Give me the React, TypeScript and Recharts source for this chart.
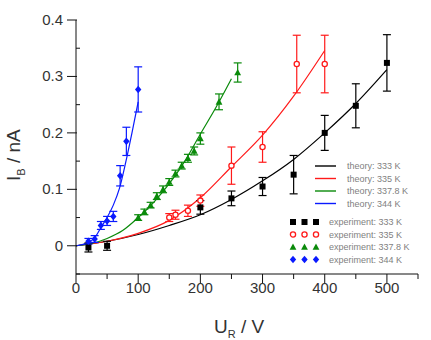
import { ComposedChart, Line, Scatter, ErrorBar, XAxis, YAxis, Legend } from 'recharts'

const FONT = '"Liberation Sans", Arial, sans-serif'

// theory curves
const theory333X = [0, 50, 100, 150, 200, 250, 300, 350, 400, 450, 500]
const theory333Y = [0, 0.008, 0.02, 0.036, 0.055, 0.082, 0.115, 0.153, 0.2, 0.252, 0.312]

const theory335X = [0, 50, 100, 150, 200, 250, 300, 350, 400]
const theory335Y = [0, 0.008, 0.022, 0.045, 0.085, 0.14, 0.196, 0.265, 0.346]

const theory3378X = [0, 25, 50, 75, 100, 125, 150, 175, 200, 225, 250]
const theory3378Y = [0, 0.004, 0.013, 0.027, 0.05, 0.077, 0.11, 0.15, 0.198, 0.245, 0.296]

const theory344X = [0, 10, 20, 30, 40, 50, 60, 70, 80, 90, 100]
const theory344Y = [0, 0.002, 0.006, 0.014, 0.032, 0.05, 0.072, 0.102, 0.148, 0.2, 0.255]

// measurements with error
const exp333X = [20, 50, 200, 250, 300, 350, 400, 450, 500]
const exp333Y = [-0.003, 0.0, 0.068, 0.084, 0.105, 0.126, 0.2, 0.248, 0.324]
const exp333Err = [0.008, 0.008, 0.012, 0.013, 0.016, 0.034, 0.031, 0.039, 0.05]

const exp335X = [150, 160, 180, 200, 250, 300, 355, 400]
const exp335Y = [0.05, 0.055, 0.062, 0.08, 0.142, 0.175, 0.322, 0.322]
const exp335Err = [0.007, 0.008, 0.01, 0.01, 0.033, 0.027, 0.051, 0.051]

const exp3378X = [100, 110, 120, 130, 140, 150, 160, 170, 180, 190, 200, 230, 260]
const exp3378Y = [0.05, 0.06, 0.072, 0.088, 0.1, 0.113, 0.128, 0.142, 0.155, 0.168, 0.19, 0.255, 0.307]
const exp3378Err = [0.005, 0.005, 0.005, 0.006, 0.006, 0.006, 0.006, 0.006, 0.007, 0.007, 0.01, 0.014, 0.017]

const exp344X = [20, 30, 40, 50, 60, 71, 81, 100]
const exp344Y = [0.008, 0.012, 0.036, 0.044, 0.052, 0.124, 0.185, 0.277]
const exp344Err = [0.005, 0.006, 0.007, 0.008, 0.009, 0.018, 0.025, 0.04]

const X_TICKS = [0, 50, 100, 150, 200, 250, 300, 350, 400, 450, 500, 550]
const Y_TICKS = [-0.05, 0, 0.05, 0.1, 0.15, 0.2, 0.25, 0.3, 0.35, 0.4]

const pts = (xs: number[], ys: number[], errs?: number[]) =>
  xs.map((x, i) => ({ x, y: ys[i], err: errs ? errs[i] : 0 }))

const SERIES = [
  { temp: '333 K', color: '#000000', marker: 'square', tx: theory333X, ty: theory333Y, ex: exp333X, ey: exp333Y, ee: exp333Err },
  { temp: '335 K', color: '#ff1a1a', marker: 'circle', tx: theory335X, ty: theory335Y, ex: exp335X, ey: exp335Y, ee: exp335Err },
  { temp: '337.8 K', color: '#0a8a0a', marker: 'triangle', tx: theory3378X, ty: theory3378Y, ex: exp3378X, ey: exp3378Y, ee: exp3378Err },
  { temp: '344 K', color: '#0a1aff', marker: 'diamond', tx: theory344X, ty: theory344Y, ex: exp344X, ey: exp344Y, ee: exp344Err },
]

function marker(kind: string, cx: number, cy: number, color: string) {
  switch (kind) {
    case 'square':
      return <rect x={cx - 3} y={cy - 3} width={6} height={6} fill={color} />
    case 'circle':
      return <circle cx={cx} cy={cy} r={2.6} fill="#fff" stroke={color} strokeWidth={1.3} />
    case 'triangle':
      return <path d={`M${cx},${cy - 3.6}L${cx + 3.4},${cy + 2.8}L${cx - 3.4},${cy + 2.8}Z`} fill={color} />
    default:
      return <path d={`M${cx},${cy - 3.8}L${cx + 3.2},${cy}L${cx},${cy + 3.8}L${cx - 3.2},${cy}Z`} fill={color} />
  }
}

const isMajorX = (v: number) => Math.round(v) % 100 === 0
const isMajorY = (v: number) => Math.round(v * 100) % 10 === 0

function BottomTick({ x, y, payload }: any) {
  const major = isMajorX(payload.value)
  return (
    <g>
      <line x1={x} x2={x} y1={y} y2={y + (major ? 9 : 5)} stroke="#111" />
      {major && payload.value <= 500 && (
        <text x={x} y={y + 19} textAnchor="middle" fontSize={15} fill="#333" fontFamily={FONT}>
          {payload.value}
        </text>
      )}
    </g>
  )
}

function TopTick({ x, y, payload }: any) {
  const major = isMajorX(payload.value)
  return <line x1={x} x2={x} y1={y} y2={y - (major ? 9 : 5)} stroke="#111" />
}

function LeftTick({ x, y, payload }: any) {
  const v = payload.value
  const major = isMajorY(v)
  return (
    <g>
      {major ? (
        <line x1={x - 9} x2={x + 1} y1={y} y2={y} stroke="#111" />
      ) : (
        <line x1={x} x2={x + 4} y1={y} y2={y} stroke="#111" />
      )}
      {major && v >= 0 && (
        <text x={x - 13} y={y + 5} textAnchor="end" fontSize={15} fill="#333" fontFamily={FONT}>
          {Math.abs(v) < 1e-9 ? '0' : v.toFixed(1)}
        </text>
      )}
    </g>
  )
}

function RightTick({ x, y }: any) {
  return <line x1={x} x2={x + 6} y1={y} y2={y} stroke="#111" />
}

function LegendBox() {
  const theoryRows = [8, 20.5, 33, 45.5]
  const expRows = [64, 76.5, 89, 101.5]
  return (
    <svg width={140} height={110} style={{ display: 'block' }}>
      {SERIES.map((s, i) => (
        <g key={'t' + s.temp}>
          <line x1={27} x2={48} y1={theoryRows[i]} y2={theoryRows[i]} stroke={s.color} strokeWidth={1.4} />
          <text x={59} y={theoryRows[i] + 3} fontSize={9} fill="#7f7f7f" fontFamily={FONT}>
            theory: {s.temp}
          </text>
        </g>
      ))}
      {SERIES.map((s, i) => (
        <g key={'e' + s.temp}>
          {[5, 16.5, 28].map((mx) => (
            <g key={mx}>{marker(s.marker, mx, expRows[i], s.color)}</g>
          ))}
          <text x={41} y={expRows[i] + 3} fontSize={9} fill="#7f7f7f" fontFamily={FONT}>
            experiment: {s.temp}
          </text>
        </g>
      ))}
    </svg>
  )
}

export default function App() {
  return (
    <div style={{ position: 'absolute', left: 0, top: 0, width: 431, height: 340, background: '#fff' }}>
      <ComposedChart width={431} height={340} margin={{ top: 20, right: 13, bottom: 0, left: 0 }}>
        <XAxis
          dataKey="x"
          type="number"
          domain={[0, 550]}
          ticks={X_TICKS}
          interval={0}
          allowDataOverflow
          height={66}
          tickSize={0}
          tickMargin={0}
          tick={<BottomTick />}
          axisLine={{ stroke: '#111' }}
        />
        <XAxis
          xAxisId="top"
          orientation="top"
          dataKey="x"
          type="number"
          domain={[0, 550]}
          ticks={X_TICKS}
          interval={0}
          allowDataOverflow
          height={0}
          tickSize={0}
          tickMargin={0}
          tick={<TopTick />}
          axisLine={{ stroke: '#111' }}
        />
        <YAxis
          dataKey="y"
          type="number"
          domain={[-0.05, 0.4]}
          ticks={Y_TICKS}
          interval={0}
          allowDataOverflow
          width={76}
          tickSize={0}
          tickMargin={0}
          tick={<LeftTick />}
          axisLine={{ stroke: '#111' }}
        />
        <YAxis
          yAxisId="right"
          orientation="right"
          type="number"
          domain={[-0.05, 0.4]}
          ticks={Y_TICKS}
          interval={0}
          allowDataOverflow
          width={0}
          tickSize={0}
          tickMargin={0}
          tick={<RightTick />}
          axisLine={{ stroke: '#111' }}
        />
        {SERIES.map((s) => (
          <Line
            key={'theory ' + s.temp}
            name={'theory: ' + s.temp}
            data={pts(s.tx, s.ty)}
            dataKey="y"
            type="monotone"
            stroke={s.color}
            strokeWidth={1.2}
            dot={false}
            activeDot={false}
            isAnimationActive={false}
          />
        ))}
        {SERIES.map((s) => (
          <Scatter
            key={'exp ' + s.temp}
            name={'experiment: ' + s.temp}
            data={pts(s.ex, s.ey, s.ee)}
            dataKey="y"
            fill={s.color}
            isAnimationActive={false}
            shape={(p: any) => marker(s.marker, p.cx, p.cy, s.color)}
          >
            <ErrorBar dataKey="err" direction="y" width={4} stroke={s.color} strokeWidth={1.2} />
          </Scatter>
        ))}
        <Legend
          layout="vertical"
          align="center"
          verticalAlign="middle"
          content={() => <LegendBox />}
          wrapperStyle={{ left: 288, top: 158, width: 140, height: 110 }}
        />
      </ComposedChart>
      <svg
        width={431}
        height={340}
        style={{ position: 'absolute', left: 0, top: 0, pointerEvents: 'none' }}
      >
        <text x={214} y={333} fontSize={19} fill="#333" fontFamily={FONT}>
          U<tspan fontSize={11} dy={5}>R</tspan>
          <tspan dy={-5}> / V</tspan>
        </text>
        <text transform="translate(20,181) rotate(-90)" fontSize={19} fill="#333" fontFamily={FONT}>
          I<tspan fontSize={11} dy={5}>B</tspan>
          <tspan dy={-5}> / nA</tspan>
        </text>
      </svg>
    </div>
  )
}
